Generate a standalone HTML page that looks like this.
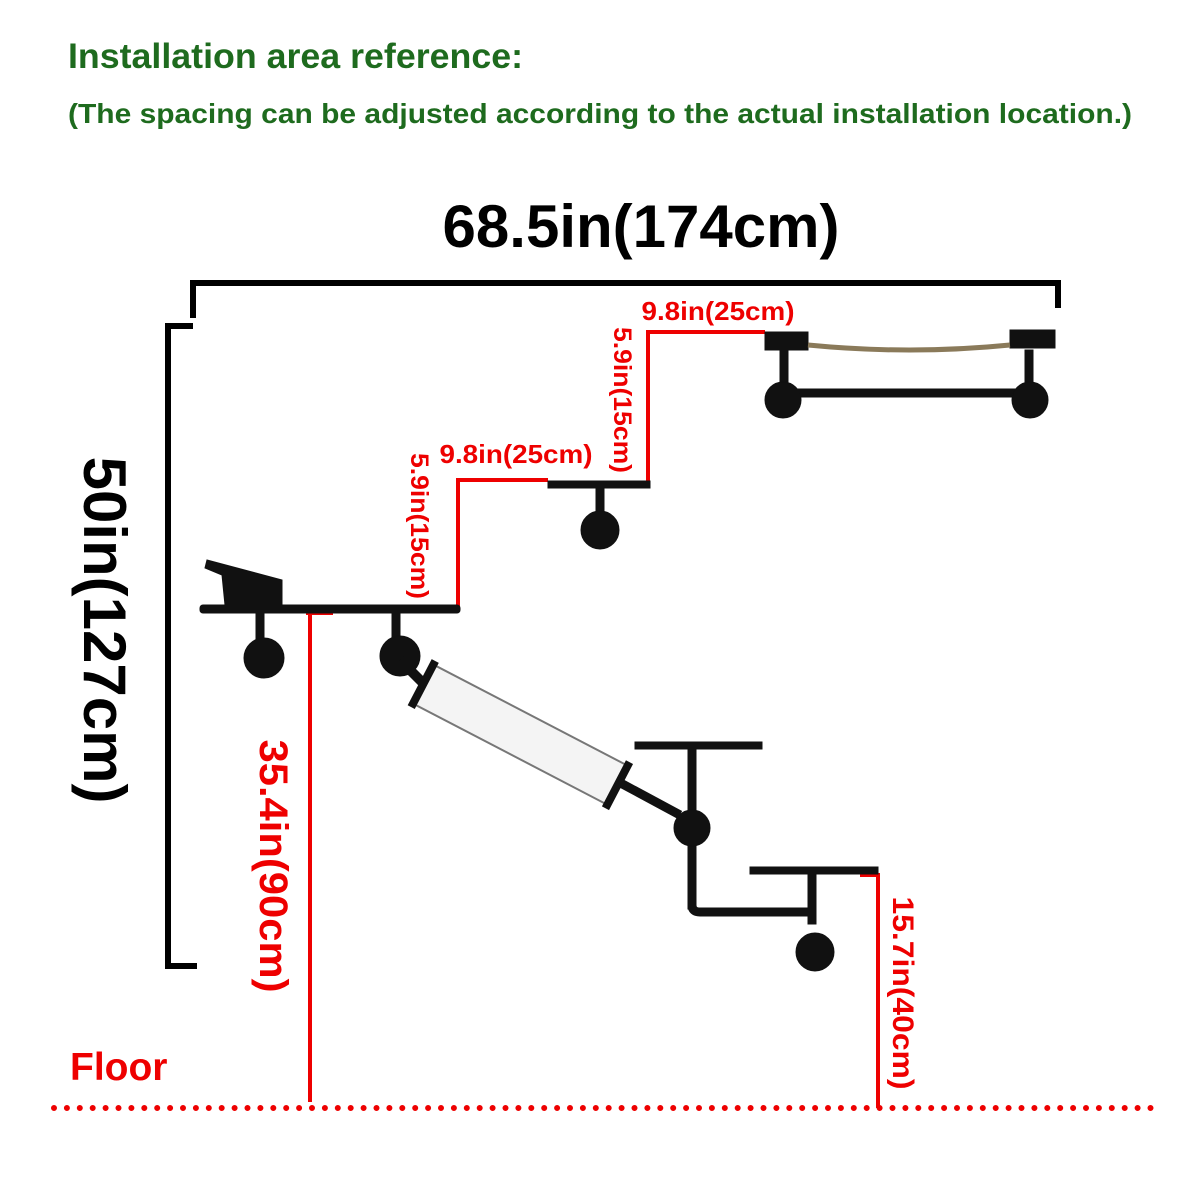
<!DOCTYPE html><html><head><style>body{margin:0;background:#fff}svg{display:block}</style></head><body>
<svg width="1200" height="1200" viewBox="0 0 1200 1200" xmlns="http://www.w3.org/2000/svg" font-family="Liberation Sans, sans-serif" font-weight="bold">
<text x="68" y="68" font-size="35" fill="#1e6b1e" textLength="455" lengthAdjust="spacingAndGlyphs">Installation area reference:</text>
<text x="68" y="123" font-size="28" fill="#1e6b1e" textLength="1064" lengthAdjust="spacingAndGlyphs">(The spacing can be adjusted according to the actual installation location.)</text>
<text x="641" y="247" font-size="60" text-anchor="middle" fill="#000">68.5in(174cm)</text>
<path d="M193 318V283H1058V308" fill="none" stroke="#000" stroke-width="6"/>
<path d="M193 326H168V966H197" fill="none" stroke="#000" stroke-width="6"/>
<text transform="translate(84,630) rotate(90)" font-size="60" text-anchor="middle" fill="#000">50in(127cm)</text>
<g stroke="#e00" stroke-width="4" fill="none">
<path d="M306 613H333M310 611V1102"/>
<path d="M458 609V480H548"/>
<path d="M648 484V332H765"/>
<path d="M860 875H878V1108"/>
</g>
<text x="516" y="463" font-size="26" text-anchor="middle" fill="#e00" textLength="153" lengthAdjust="spacingAndGlyphs">9.8in(25cm)</text>
<text x="718" y="320" font-size="26" text-anchor="middle" fill="#e00" textLength="153" lengthAdjust="spacingAndGlyphs">9.8in(25cm)</text>
<text transform="translate(411,526) rotate(90)" font-size="25" text-anchor="middle" fill="#e00" textLength="146" lengthAdjust="spacingAndGlyphs">5.9in(15cm)</text>
<text transform="translate(614,400) rotate(90)" font-size="25" text-anchor="middle" fill="#e00" textLength="146" lengthAdjust="spacingAndGlyphs">5.9in(15cm)</text>
<text transform="translate(260,866) rotate(90)" font-size="40" text-anchor="middle" fill="#e00" textLength="253" lengthAdjust="spacingAndGlyphs">35.4in(90cm)</text>
<text transform="translate(893,993) rotate(90)" font-size="30" text-anchor="middle" fill="#e00" textLength="193" lengthAdjust="spacingAndGlyphs">15.7in(40cm)</text>
<text x="70" y="1080" font-size="39" fill="#e00">Floor</text>
<line x1="54" y1="1108" x2="1155" y2="1108" stroke="#e00" stroke-width="6" stroke-linecap="round" stroke-dasharray="0 12.9"/>
<g fill="#111" stroke="#111">
<polygon points="207,560 282,580 282,605 225,605 222,575 205,568"/>
<rect x="200" y="605" width="260" height="8" rx="3"/>
<rect x="256" y="612" width="8" height="40"/><rect x="392" y="612" width="8" height="40"/>
<circle cx="264" cy="658" r="20"/><circle cx="400" cy="656" r="20"/>
<rect x="548" y="481" width="102" height="7"/>
<rect x="596" y="487" width="8" height="30"/><circle cx="600" cy="530" r="19"/>
<rect x="765" y="332" width="43" height="18"/><rect x="1010" y="330" width="45" height="18"/>
<rect x="780" y="350" width="8" height="40"/><rect x="1025" y="350" width="8" height="40"/>
<rect x="790" y="389" width="240" height="8" rx="3"/>
<circle cx="783" cy="400" r="18"/><circle cx="1030" cy="400" r="18"/>
<rect x="635" y="742" width="127" height="7"/>
<rect x="688" y="749" width="8" height="160"/>
<circle cx="692" cy="828" r="18"/>
<path d="M615 780L680 815" stroke-width="9"/>
<path d="M692 905Q692 912 700 912H810" stroke-width="9" fill="none"/>
<rect x="750" y="867" width="128" height="7"/>
<rect x="808" y="874" width="8" height="50"/>
<circle cx="815" cy="952" r="19"/>
<path d="M400 660L425 685" stroke-width="10"/>
</g>
<path d="M808 345Q910 355 1010 345" stroke="#8a7a5a" stroke-width="5" fill="none"/>
<g transform="translate(425,685) rotate(27.5)">
<rect x="0" y="-22" width="215" height="44" fill="#f4f4f4" stroke="#777" stroke-width="2"/>
<rect x="-6" y="-26" width="8" height="52" fill="#111"/><rect x="213" y="-26" width="8" height="52" fill="#111"/>
</g>
</svg></body></html>
